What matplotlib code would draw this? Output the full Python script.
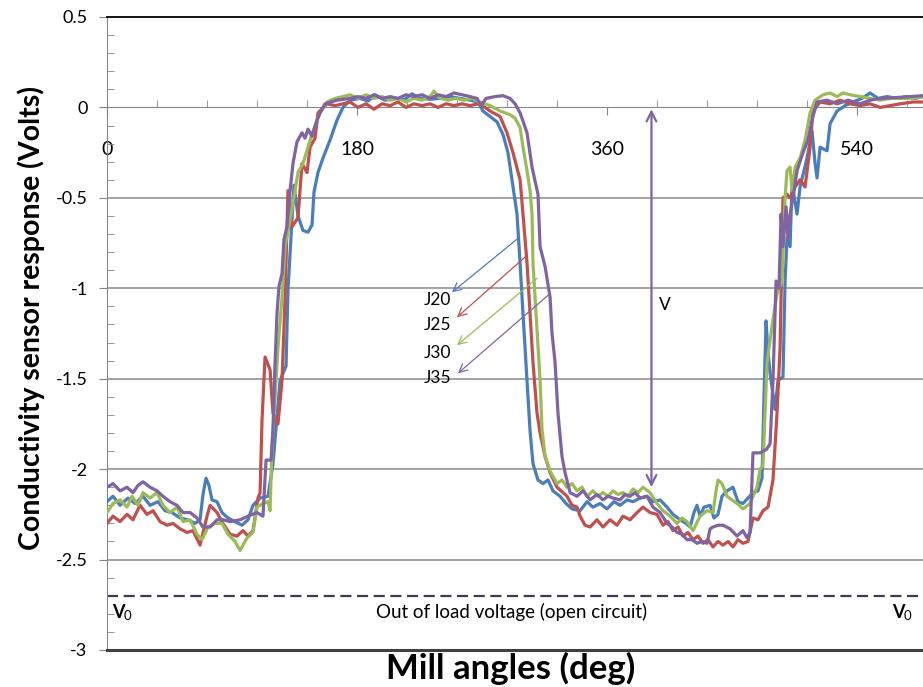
import matplotlib
matplotlib.use('Agg')
import matplotlib.pyplot as plt
from matplotlib.ticker import MultipleLocator

plt.rcParams['font.family'] = ['Lato', 'DejaVu Sans']

# sensor traces, mill angle (deg) vs response (V)
ang_j20 = [0, 4.3, 9.4, 15.1, 20.2, 25.9, 31, 36.7, 41.8, 46.8, 52.6, 58.3, 63.4, 67, 69.1, 71.3, 73.4, 75.6,
           79.2, 82.8, 87.1, 92.2, 97.2, 101.5, 105.1, 110.2, 115.9, 119.5, 124.6, 128.9, 130.3, 132.5, 134.6,
           137.5, 141.1, 144.7, 147.6, 149, 151.9, 155.5, 160.6, 165.6, 169.9, 175, 182.2, 188, 193, 200, 207.4,
           214.6, 219.6, 225.4, 232.6, 239.8, 247, 254.2, 261.4, 267.1, 270.7, 275.8, 280.8, 285.1, 288.7, 291.6,
           295.2, 297.4, 299.5, 302.4, 304.6, 306.7, 310.3, 313.9, 317.5, 321.1, 326.2, 330.5, 334.8, 340.6,
           345.6, 349.9, 355, 360, 365, 369.4, 374.4, 378.7, 383.8, 388.8, 393.1, 398.2, 403.2, 407.5, 412.6,
           416.9, 419.8, 422.6, 424.8, 427, 429.8, 434.2, 437, 439.9, 442.8, 446.4, 450.7, 454.3, 457.9, 461.5,
           465.1, 468.7, 471.6, 473, 474.5, 475.9, 477.4, 481, 483.1, 486.7, 488.2, 489.6, 491.8, 493.2, 496.8,
           499, 504, 507.6, 509.8, 511.2, 513.4, 518.4, 520.6, 525.6, 531.4, 537.1, 543.6, 549.4, 555.1, 561.6,
           568.8, 576, 581.8, 587.5]
v_j20 = [-2.18, -2.15, -2.20, -2.16, -2.19, -2.15, -2.20, -2.18, -2.23, -2.24, -2.27, -2.28, -2.30, -2.28, -2.14,
         -2.05, -2.09, -2.17, -2.18, -2.24, -2.27, -2.29, -2.31, -2.28, -2.20, -2.16, -2.15, -1.97, -1.51, -1.43,
         -1.01, -0.71, -0.43, -0.60, -0.68, -0.69, -0.65, -0.47, -0.36, -0.28, -0.18, -0.07, 0.0, 0.04, 0.05,
         0.035, 0.07, 0.04, 0.05, 0.045, 0.075, 0.05, 0.045, 0.05, 0.06, 0.05, 0.04, 0.03, -0.02, -0.05, -0.08,
         -0.15, -0.25, -0.40, -0.59, -0.86, -1.14, -1.51, -1.79, -1.97, -2.06, -2.08, -2.06, -2.12, -2.15, -2.19,
         -2.22, -2.23, -2.18, -2.21, -2.19, -2.22, -2.18, -2.20, -2.17, -2.18, -2.16, -2.15, -2.18, -2.17, -2.21,
         -2.25, -2.28, -2.30, -2.32, -2.24, -2.20, -2.26, -2.21, -2.20, -2.27, -2.25, -2.15, -2.12, -2.10, -2.18,
         -2.19, -2.16, -2.13, -2.12, -2.05, -1.60, -1.18, -1.35, -1.47, -1.67, -1.51, -1.49, -0.96, -0.72, -0.77,
         -0.42, -0.59, -0.44, -0.28, -0.13, -0.31, -0.39, -0.22, -0.24, -0.09, -0.02, 0.01, 0.03, 0.05, 0.08,
         0.05, 0.06, 0.05, 0.06, 0.05, 0.06]

ang_j25 = [0, 4.3, 9.4, 14.4, 18.7, 23.8, 28.8, 33.1, 38.2, 43.2, 47.5, 52.6, 57.6, 61.9, 67, 69.8, 72, 74.2,
           79.2, 83.5, 88.6, 93.6, 97.9, 101.5, 105.1, 108.7, 110.2, 111.6, 113.8, 117.4, 119.5, 123.1, 126,
           128.2, 130.3, 133.2, 137.5, 140.4, 144, 146.2, 149.8, 151.9, 158.4, 164.2, 169.9, 175, 180.7, 186.5,
           192.2, 198, 203.8, 209.5, 215.3, 221, 226.8, 232.6, 238.3, 244.1, 249.8, 255.6, 261.4, 267.1, 272.2,
           275.8, 283, 288, 292.3, 297.4, 299.5, 302.4, 304.6, 306.7, 309.6, 311.8, 315.4, 319, 324, 328.3,
           331.2, 334.8, 338.4, 340.6, 344.2, 347.8, 352.8, 357.1, 362.2, 367.2, 371.5, 376.6, 381.6, 385.9, 391,
           396, 400.3, 403.9, 407.5, 411.1, 414.7, 418.3, 421.9, 425.5, 429.1, 432.7, 436.3, 439.9, 443.5, 447.1,
           450.7, 454.3, 457.9, 461.5, 465.1, 468.7, 472.3, 475.9, 479.5, 482.4, 484.6, 486, 486.7, 489.6, 491.8,
           495.4, 499, 502.6, 506.2, 508.3, 513.4, 520.6, 527.8, 535, 542.2, 549.4, 556.6, 563.8, 571, 580.3,
           587.5]
v_j25 = [-2.30, -2.26, -2.29, -2.25, -2.28, -2.20, -2.25, -2.23, -2.29, -2.31, -2.30, -2.33, -2.35, -2.34, -2.42,
         -2.33, -2.26, -2.20, -2.24, -2.30, -2.36, -2.37, -2.34, -2.37, -2.34, -2.16, -2.13, -1.73, -1.38, -1.45,
         -1.69, -1.75, -1.51, -1.05, -0.46, -0.66, -0.61, -0.31, -0.36, -0.22, -0.17, -0.03, 0.02, 0.01, 0.02,
         0.03, 0.00, 0.02, -0.01, 0.02, 0.01, 0.03, 0.00, 0.02, 0.01, 0.02, 0.00, 0.02, 0.01, 0.02, 0.01, 0.02,
         0.00, -0.02, -0.05, -0.14, -0.25, -0.40, -0.59, -0.86, -1.14, -1.41, -1.69, -1.80, -1.93, -2.02, -2.10,
         -2.13, -2.15, -2.20, -2.21, -2.26, -2.31, -2.32, -2.28, -2.32, -2.28, -2.31, -2.26, -2.28, -2.24, -2.21,
         -2.24, -2.25, -2.31, -2.29, -2.34, -2.32, -2.37, -2.35, -2.39, -2.37, -2.41, -2.39, -2.43, -2.40, -2.42,
         -2.40, -2.43, -2.39, -2.41, -2.40, -2.27, -2.28, -2.23, -2.21, -2.06, -1.69, -1.33, -0.77, -0.50, -0.48,
         -0.50, -0.44, -0.40, -0.44, -0.22, -0.02, 0.03, 0.02, 0.04, 0.02, 0.01, 0.02, 0.00, 0.01, 0.02, 0.03,
         0.03]

ang_j30 = [0, 4.3, 9.4, 14.4, 18, 22.3, 25.9, 31, 36, 40.3, 45.4, 50.4, 54.7, 59.8, 64.8, 68.4, 72.7, 77.8,
           82.8, 87.1, 92.2, 95.8, 100.8, 105.1, 108, 112.3, 115.9, 117.4, 118.8, 121, 123.1, 126, 128.2, 131.8,
           135.4, 137.5, 141.1, 144.7, 148.3, 153.4, 158.4, 164.2, 169.9, 175, 180.7, 186.5, 192.2, 198, 203.8,
           209.5, 215.3, 221, 226.8, 232.6, 235.4, 239.8, 245.5, 251.3, 257, 262.8, 268.6, 275.8, 283, 290.2,
           293.8, 297.4, 299.5, 302.4, 304.6, 306, 306.7, 309.6, 311.8, 313.2, 315.4, 319, 324, 327.6, 331.2,
           334.8, 338.4, 342, 345.6, 349.9, 353.5, 357.1, 360.7, 364.3, 367.9, 371.5, 375.1, 378.7, 382.3, 385.9,
           391, 396, 400.3, 405.4, 410.4, 414, 417.6, 421.9, 427, 432, 436.3, 438.5, 439.9, 442.8, 446.4, 450,
           453.6, 457.9, 463, 468, 470.2, 472.3, 475.2, 477.4, 478.8, 482.4, 486, 488.2, 489.6, 491.8, 493.2,
           495.4, 499, 502.6, 506.2, 509.8, 515.5, 520.6, 525.6, 529.9, 535, 542.2, 549.4, 556.6, 563.8, 571,
           580.3, 587.5]
v_j30 = [-2.24, -2.19, -2.17, -2.21, -2.15, -2.20, -2.13, -2.16, -2.13, -2.20, -2.24, -2.21, -2.29, -2.28, -2.36,
         -2.39, -2.32, -2.30, -2.30, -2.36, -2.40, -2.45, -2.38, -2.35, -2.21, -2.19, -2.18, -2.23, -1.88, -1.60,
         -1.33, -1.05, -0.77, -0.62, -0.46, -0.36, -0.31, -0.22, -0.13, -0.03, 0.03, 0.05, 0.06, 0.07, 0.05,
         0.07, 0.05, 0.06, 0.04, 0.05, 0.03, 0.05, 0.04, 0.06, 0.09, 0.05, 0.04, 0.05, 0.04, 0.05, 0.03, 0.01,
         -0.02, -0.04, -0.06, -0.11, -0.22, -0.35, -0.46, -0.59, -0.86, -1.23, -1.51, -1.78, -1.93, -2.01, -2.08,
         -2.06, -2.10, -2.08, -2.12, -2.10, -2.15, -2.12, -2.15, -2.13, -2.15, -2.12, -2.14, -2.13, -2.15, -2.11,
         -2.13, -2.10, -2.13, -2.19, -2.23, -2.26, -2.30, -2.27, -2.29, -2.34, -2.26, -2.23, -2.24, -2.12, -2.06,
         -2.08, -2.15, -2.17, -2.19, -2.22, -2.19, -2.10, -2.00, -1.98, -1.41, -1.29, -1.21, -1.03, -0.96, -0.50,
         -0.35, -0.33, -0.46, -0.33, -0.28, -0.18, -0.03, 0.04, 0.07, 0.08, 0.06, 0.08, 0.07, 0.06, 0.05, 0.04,
         0.05, 0.05, 0.05, 0.06]

ang_j35 = [0, 4.3, 9.4, 14.4, 18.7, 22.3, 25.9, 31, 36, 40.3, 45.4, 50.4, 54.7, 59.8, 64.8, 69.1, 74.2, 79.2,
           83.5, 88.6, 95.8, 101.5, 108, 112.3, 114.5, 118.1, 119.5, 121, 122.4, 123.8, 126, 127.4, 129.6, 131.8,
           133.9, 136.8, 140.4, 142.6, 144.7, 147.6, 151.2, 153.4, 157, 165.6, 175, 180.7, 186.5, 192.2, 198,
           203.8, 209.5, 215.3, 221, 226.8, 232.6, 238.3, 244.1, 249.8, 255.6, 261.4, 266.4, 269.3, 272.9, 279.4,
           285.1, 290.2, 293.8, 297.4, 302.4, 306, 310.3, 311.8, 315.4, 319, 320.4, 322.6, 324.7, 327.6, 329.8,
           333.4, 338.4, 342.7, 347.8, 352.8, 357.1, 360.7, 364.3, 369.4, 373, 376.6, 380.2, 383.8, 388.8, 393.1,
           398.2, 403.2, 406.8, 410.4, 414, 417.6, 421.2, 424.8, 428.4, 432, 434.2, 436.3, 439.9, 443.5, 448.6,
           453.6, 457.9, 460.8, 463, 465.1, 470.2, 474.9, 477.4, 479.5, 481.7, 483.8, 485.3, 486.7, 488.9, 490.3,
           491.8, 493.9, 496.8, 501.1, 504.7, 507.6, 511.2, 518.4, 525.6, 533.5, 542.2, 549.4, 556.6, 568.8,
           578.2, 587.5]
v_j35 = [-2.10, -2.08, -2.12, -2.10, -2.13, -2.09, -2.07, -2.10, -2.12, -2.15, -2.18, -2.20, -2.24, -2.24, -2.27,
         -2.32, -2.32, -2.28, -2.28, -2.29, -2.28, -2.26, -2.24, -2.26, -1.95, -1.95, -1.78, -1.41, -1.14, -0.99,
         -0.92, -0.73, -0.66, -0.46, -0.31, -0.19, -0.14, -0.17, -0.12, -0.16, -0.07, -0.03, 0.02, 0.04, 0.05,
         0.06, 0.05, 0.07, 0.05, 0.06, 0.05, 0.07, 0.06, 0.07, 0.05, 0.07, 0.06, 0.08, 0.07, 0.06, 0.05, 0.01,
         0.05, 0.06, 0.065, 0.05, 0.02, -0.03, -0.14, -0.33, -0.48, -0.77, -0.88, -1.05, -1.25, -1.41, -1.69,
         -1.93, -2.02, -2.13, -2.15, -2.12, -2.17, -2.14, -2.17, -2.15, -2.16, -2.17, -2.14, -2.15, -2.13, -2.16,
         -2.15, -2.21, -2.24, -2.30, -2.32, -2.35, -2.36, -2.39, -2.39, -2.41, -2.40, -2.41, -2.33, -2.32, -2.31,
         -2.31, -2.33, -2.37, -2.34, -2.38, -2.35, -1.91, -1.91, -1.89, -1.86, -1.51, -0.96, -1.00, -0.59, -0.77,
         -0.55, -0.73, -0.59, -0.50, -0.35, -0.25, -0.18, -0.07, 0.03, 0.04, 0.02, 0.04, 0.02, 0.04, 0.05,
         0.055, 0.06, 0.065]

names = ['J20', 'J25', 'J30', 'J35']
colors = ['#4a7ebb', '#c0504d', '#9bbb59', '#8064a2']
angles = [ang_j20, ang_j25, ang_j30, ang_j35]
volts = [v_j20, v_j25, v_j30, v_j35]

# label arrows: (tail on curve), (head at label)
arrow_tail = [(295.9, -0.724), (302.4, -0.818), (309.6, -0.945), (317.5, -1.039)]
arrow_head = [(248.4, -1.022), (252.0, -1.160), (252.0, -1.315), (252.7, -1.470)]
label_pos = [(237.6, -1.066), (237.6, -1.204), (237.6, -1.359), (238.3, -1.497)]

v_angle = 392        # where the swing V is measured
v_low = -2.10        # bottom of the swing
v_open = -2.7        # open-circuit voltage

fig = plt.figure(figsize=(9.23, 6.87), dpi=100)
ax = fig.add_axes([107 / 923, 1 - 650 / 687, 1 - 107 / 923, (650 - 17) / 687])

ax.set_xlim(0, 587.5)
ax.set_ylim(-3, 0.5)

for y in [-2.5, -2, -1.5, -1, -0.5]:
    ax.axhline(y, color='#8c8c8c', lw=1.1, zorder=1)

for a, v, c in zip(angles, volts, colors):
    ax.plot(a, v, color=c, lw=2.3, solid_joinstyle='round', zorder=3)

for (tx, ty), (hx, hy), (lx, ly), c, n in zip(arrow_tail, arrow_head, label_pos, colors, names):
    ax.annotate('', xy=(hx, hy), xytext=(tx, ty),
                arrowprops=dict(arrowstyle='->,head_length=0.6,head_width=0.3', color=c, lw=0.9,
                                shrinkA=0, shrinkB=0), zorder=4)
    ax.text(lx, ly, n, fontsize=12.5, ha='center', va='center', zorder=5)

# swing between load level and zero
ax.annotate('', xy=(v_angle, v_low), xytext=(v_angle, -0.01),
            arrowprops=dict(arrowstyle='<->,head_length=0.7,head_width=0.35', color='#8064a2', lw=1.6,
                            shrinkA=0, shrinkB=0), zorder=4)
ax.text(401.8, -1.09, 'V', fontsize=12.5, ha='center', va='center')

# open circuit level
ax.axhline(v_open, color='#3d3b5c', lw=1.6, ls=(0, (5, 2.5)), zorder=2)
ax.text(291, -2.79, 'Out of load voltage (open circuit)', fontsize=13.5, ha='center', va='center')
for x0 in [3.5, 565]:
    ax.text(x0, -2.79, 'V', fontsize=13, fontweight='bold', ha='left', va='center')
    ax.text(x0 + 8.3, -2.81, '0', fontsize=9.5, ha='left', va='center')

# axes styling: x axis sits at zero volts
ax.spines['bottom'].set_position(('data', 0))
ax.spines['bottom'].set_color('#868686')
ax.spines['left'].set_color('#868686')
ax.spines['right'].set_visible(False)
ax.spines['top'].set_color('black')
ax.spines['top'].set_linewidth(1.3)
ax.axhline(-3, color='#404040', lw=2.2, zorder=6, clip_on=False)

ax.xaxis.set_major_locator(MultipleLocator(180))
ax.xaxis.set_minor_locator(MultipleLocator(36))
ax.yaxis.set_major_locator(MultipleLocator(0.5))
ax.yaxis.set_minor_locator(MultipleLocator(0.1))
ax.tick_params(axis='x', which='major', direction='out', length=6, color='#868686', labelsize=14, pad=18)
ax.tick_params(axis='x', which='minor', direction='in', length=5, color='#868686')
ax.tick_params(axis='y', which='major', direction='out', length=6, color='#868686', labelsize=13, pad=8)
ax.tick_params(axis='y', which='minor', direction='in', length=5, color='#868686')
ax.set_yticklabels(['{:g}'.format(t) for t in ax.get_yticks()])

fig.text(511 / 923, 1 - 668 / 687, 'Mill angles (deg)', fontsize=25, fontweight='bold',
         ha='center', va='center')
fig.text(31 / 923, 1 - 318 / 687, 'Conductivity sensor response (Volts)', fontsize=20.5,
         fontweight='bold', rotation=90, ha='center', va='center')

fig.savefig('out.png', dpi=100)
